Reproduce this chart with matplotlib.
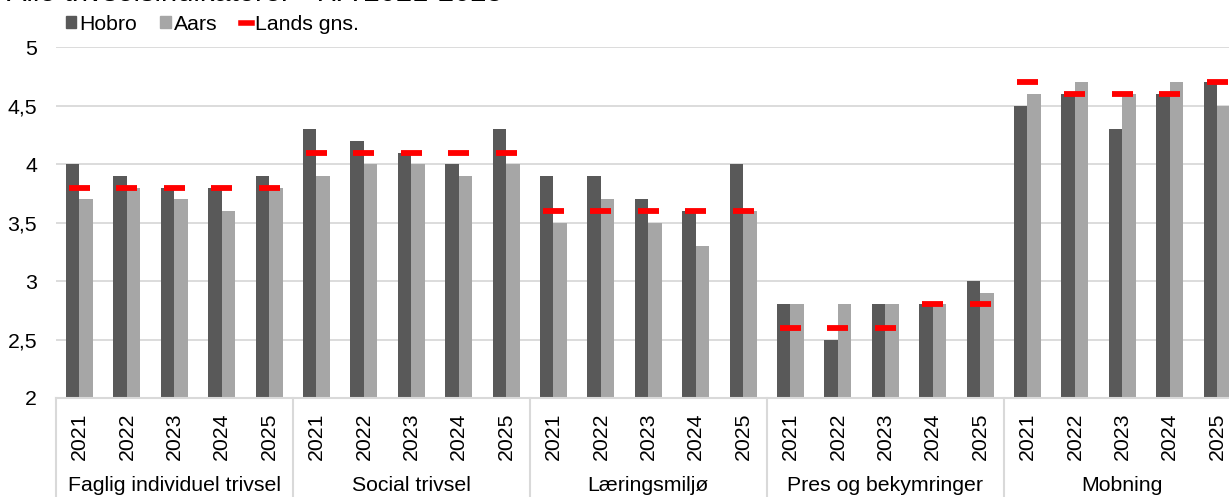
import numpy as np
import matplotlib.pyplot as plt
from matplotlib.patches import Patch
from matplotlib.lines import Line2D
import matplotlib.transforms as mtransforms

plt.rcParams['font.family'] = ['Liberation Sans', 'DejaVu Sans']

groups = ['Faglig individuel trivsel', 'Social trivsel', 'Læringsmiljø',
          'Pres og bekymringer', 'Mobning']
years = ['2021', '2022', '2023', '2024', '2025']

hobro = [4.0, 3.9, 3.8, 3.8, 3.9,
         4.3, 4.2, 4.1, 4.0, 4.3,
         3.9, 3.9, 3.7, 3.6, 4.0,
         2.8, 2.5, 2.8, 2.8, 3.0,
         4.5, 4.6, 4.3, 4.6, 4.7]
aars = [3.7, 3.8, 3.7, 3.6, 3.8,
        3.9, 4.0, 4.0, 3.9, 4.0,
        3.5, 3.7, 3.5, 3.3, 3.6,
        2.8, 2.8, 2.8, 2.8, 2.9,
        4.6, 4.7, 4.6, 4.7, 4.5]
lands = [3.8, 3.8, 3.8, 3.8, 3.8,
         4.1, 4.1, 4.1, 4.1, 4.1,
         3.6, 3.6, 3.6, 3.6, 3.6,
         2.6, 2.6, 2.6, 2.8, 2.8,
         4.7, 4.6, 4.6, 4.6, 4.7]

dark = '#595959'
light = '#a6a6a6'
red = '#ff0000'
gridc = '#d9d9d9'
fs = 15.3

fig = plt.figure(figsize=(12.29, 4.97), dpi=100)
ax = fig.add_axes([0.0454, 0.1992, 0.9642, 0.7056])

x = np.arange(len(hobro))
w = 0.285
ax.bar(x - w / 2, hobro, w, color=dark, zorder=2)
ax.bar(x + w / 2, aars, w, color=light, zorder=2)
ax.hlines(lands, x - 0.22, x + 0.22, color=red, lw=4.2, zorder=3)

ax.set_xlim(-0.5, len(x) - 0.5)
ax.set_ylim(2, 5)
yt = [2, 2.5, 3, 3.5, 4, 4.5, 5]
ax.set_yticks(yt)
ax.set_yticklabels([('%g' % v).replace('.', ',') for v in yt], fontsize=fs)
ax.yaxis.grid(True, color=gridc, lw=1.3)
ax.set_axisbelow(True)
ax.set_xticks(x)
ax.set_xticklabels(years * len(groups), rotation=90, fontsize=fs)
ax.tick_params(axis='x', length=0, pad=10.5)
ax.tick_params(axis='y', length=0, pad=13.5)
for s in ['top', 'right', 'left']:
    ax.spines[s].set_visible(False)
ax.spines['bottom'].set_color(gridc)
ax.spines['bottom'].set_linewidth(1.5)

# group labels and separators under the axis
trans = mtransforms.blended_transform_factory(ax.transData, ax.transAxes)
for i, g in enumerate(groups):
    ax.text(i * 5 + 2, -0.25, g, transform=trans, ha='center', va='center',
            fontsize=fs)
for k in range(len(groups) + 1):
    ax.plot([k * 5 - 0.5, k * 5 - 0.5], [0, -0.3], transform=trans,
            color=gridc, lw=1.5, clip_on=False)

handles = [Patch(color=dark), Patch(color=light),
           Line2D([0], [0], color=red, lw=4)]
fig.legend(handles, ['Hobro', 'Aars', 'Lands gns.'], loc='center left',
           bbox_to_anchor=(0.0447, 0.9517), ncol=3, frameon=False,
           fontsize=fs, handlelength=0.5, handleheight=0.5,
           handletextpad=0.15, columnspacing=1.1, borderpad=0)

fig.text(0.006, 0.998, 'Alle trivselsindikatorer - HA 2021-2025',
         fontsize=21, va='baseline', ha='left')

fig.savefig('out.png', dpi=100)
